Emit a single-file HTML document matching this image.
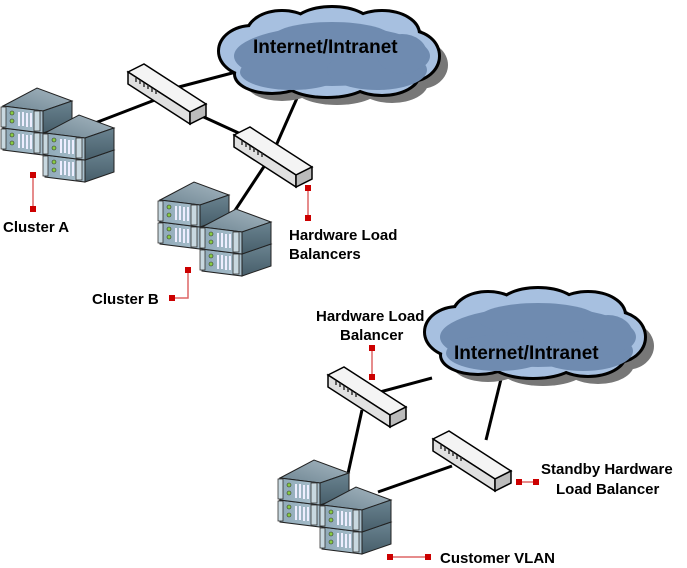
<!DOCTYPE html>
<html><head><style>
body{margin:0;background:#fff;}
svg{display:block;}
text{font-family:"Liberation Sans",sans-serif;font-weight:bold;font-size:15px;fill:#000;}
</style></head><body>
<svg width="687" height="568" viewBox="0 0 687 568" xmlns="http://www.w3.org/2000/svg">
<defs>
<linearGradient id="fr" x1="0" y1="0" x2="1" y2="0"><stop offset="0" stop-color="#8fa9b8"/><stop offset="1" stop-color="#a9c0cd"/></linearGradient>
<linearGradient id="tp" x1="0" y1="1" x2="1" y2="0"><stop offset="0" stop-color="#6f8693"/><stop offset="1" stop-color="#a6b7c1"/></linearGradient>
<linearGradient id="rs" x1="0" y1="0" x2="0" y2="1"><stop offset="0" stop-color="#6a8390"/><stop offset="1" stop-color="#475e6a"/></linearGradient>
<g id="unit">
<polygon points="0,0 34,-18 69,-5 40,5" fill="url(#tp)" stroke="#222" stroke-width="1"/>
<polygon points="40,5 69,-5 69,17 40,27" fill="url(#rs)" stroke="#222" stroke-width="1"/>
<polygon points="0,0 40,5 40,27 0,22" fill="url(#fr)" stroke="#222" stroke-width="1"/>
<rect x="-2" y="1" width="5" height="20" fill="#c8d8e0" stroke="#333" stroke-width="0.8"/>
<circle cx="9" cy="7" r="2" fill="#8c4" stroke="#333" stroke-width="0.6"/>
<circle cx="9" cy="15" r="2" fill="#8c4" stroke="#333" stroke-width="0.6"/>
<g stroke="#eef" stroke-width="2"><line x1="16" y1="6" x2="16" y2="20"/><line x1="20" y1="6" x2="20" y2="20"/><line x1="24" y1="7" x2="24" y2="21"/><line x1="28" y1="7" x2="28" y2="21"/></g>
<rect x="31" y="5" width="6" height="20" fill="#c8d8e0" stroke="#333" stroke-width="0.8"/>
</g>
<g id="stack"><use href="#unit" y="22"/><use href="#unit"/></g>
<g id="cluster"><use href="#stack"/><use href="#stack" x="42" y="27"/></g>
<g id="sw">
<polygon points="0,8 16,0 78,40 62,48" fill="#f4f4f4" stroke="#000" stroke-width="1.5"/>
<polygon points="0,8 62,48 62,60 0,20" fill="#e0e0e0" stroke="#000" stroke-width="1.5"/>
<polygon points="62,48 78,40 78,52 62,60" fill="#bbb" stroke="#000" stroke-width="1.5"/>
<g stroke="#333" stroke-width="1.5"><line x1="8" y1="14" x2="8" y2="18"/><line x1="12" y1="16" x2="12" y2="20"/><line x1="16" y1="19" x2="16" y2="23"/><line x1="20" y1="21" x2="20" y2="25"/><line x1="24" y1="24" x2="24" y2="28"/><line x1="28" y1="26" x2="28" y2="30"/></g>
</g>
<g id="cloudshape">
<ellipse cx="40" cy="45" rx="32" ry="24"/><ellipse cx="70" cy="28" rx="34" ry="22"/><ellipse cx="120" cy="22" rx="40" ry="20"/><ellipse cx="170" cy="28" rx="36" ry="22"/><ellipse cx="198" cy="50" rx="28" ry="24"/><ellipse cx="170" cy="68" rx="36" ry="20"/><ellipse cx="115" cy="72" rx="44" ry="18"/><ellipse cx="60" cy="68" rx="36" ry="18"/><ellipse cx="115" cy="46" rx="80" ry="30"/>
</g>
<g id="cloud">
<use href="#cloudshape" x="10" y="9" fill="#777"/>
<use href="#cloudshape" fill="#000" stroke="#000" stroke-width="6"/>
<use href="#cloudshape" fill="#a7c0e0"/>
<g fill="#6f8bb0"><ellipse cx="120" cy="50" rx="98" ry="30"/><ellipse cx="80" cy="66" rx="52" ry="18"/><ellipse cx="165" cy="64" rx="50" ry="20"/><ellipse cx="120" cy="32" rx="60" ry="16"/><ellipse cx="190" cy="48" rx="25" ry="20"/></g>
</g>
</defs>
<g stroke="#000" stroke-width="3">
<line x1="175" y1="88" x2="236" y2="72"/>
<line x1="95" y1="123" x2="160" y2="98"/>
<line x1="195" y1="113" x2="243" y2="135"/>
<line x1="305" y1="80" x2="275" y2="148"/>
<line x1="265" y1="165" x2="230" y2="218"/>
<line x1="380" y1="392" x2="432" y2="378"/>
<line x1="362" y1="410" x2="347" y2="478"/>
<line x1="486" y1="440" x2="502" y2="375"/>
<line x1="452" y1="466" x2="378" y2="492"/>
</g>
<use href="#cloud" x="212" y="6"/>
<use href="#cloud" x="418" y="287"/>
<text x="253" y="53" style="font-size:19px">Internet/Intranet</text>
<text x="454" y="359" style="font-size:19px">Internet/Intranet</text>
<use href="#sw" x="128" y="64"/>
<use href="#sw" x="234" y="127"/>
<use href="#sw" x="328" y="367"/>
<use href="#sw" x="433" y="431"/>
<use href="#cluster" x="3" y="106"/>
<use href="#cluster" x="160" y="200"/>
<use href="#cluster" x="280" y="478"/>
<g stroke="#d66" stroke-width="1.5" fill="none">
<line x1="33" y1="175" x2="33" y2="209"/>
<line x1="308" y1="188" x2="308" y2="218"/>
<polyline points="188,270 188,298 172,298"/>
<line x1="372" y1="348" x2="372" y2="377"/>
<line x1="519" y1="482" x2="536" y2="482"/>
<line x1="390" y1="557" x2="428" y2="557"/>
</g>
<g fill="#c00">
<rect x="30" y="172" width="6" height="6"/><rect x="30" y="206" width="6" height="6"/>
<rect x="305" y="185" width="6" height="6"/><rect x="305" y="215" width="6" height="6"/>
<rect x="185" y="267" width="6" height="6"/><rect x="169" y="295" width="6" height="6"/>
<rect x="369" y="345" width="6" height="6"/><rect x="369" y="374" width="6" height="6"/>
<rect x="516" y="479" width="6" height="6"/><rect x="533" y="479" width="6" height="6"/>
<rect x="387" y="554" width="6" height="6"/><rect x="425" y="554" width="6" height="6"/>
</g>
<text x="3" y="232">Cluster A</text>
<text x="289" y="240">Hardware Load</text>
<text x="289" y="259">Balancers</text>
<text x="92" y="304">Cluster B</text>
<text x="316" y="321">Hardware Load</text>
<text x="340" y="340">Balancer</text>
<text x="541" y="474">Standby Hardware</text>
<text x="556" y="494">Load Balancer</text>
<text x="440" y="563">Customer VLAN</text>
</svg>
</body></html>
